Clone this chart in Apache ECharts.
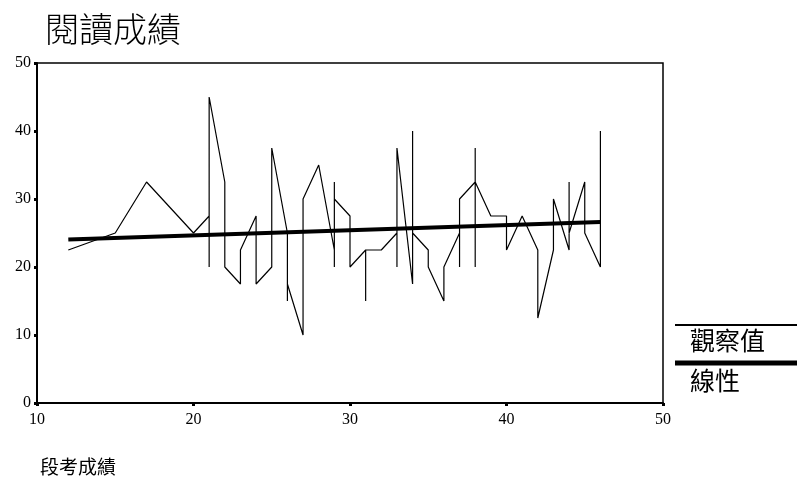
<!DOCTYPE html>
<html><head><meta charset="utf-8">
<script src="https://cdn.jsdelivr.net/npm/echarts@6/dist/echarts.min.js"></script>
<style>html,body{margin:0;padding:0;background:#fff}#c{width:797px;height:481px}</style>
</head><body><div id="c"></div>
<script>
const chartTitle = '閱讀成績';
const xAxisName = '段考成績';
const legendNames = ['觀察值', '線性'];
const xRange = [10, 50];
const yRange = [0, 50];
const tickStep = 10;
// observed values, in drawing order (sorted by x, ties kept in path order)
const obsX = [12,15,17,20,21,21,21,21,22,22,22,23,23,24,24,25,25,26,26,26,27,27,27,28,29,29,29,29,30,30,31,31,31,32,33,33,33,34,34,34,35,35,36,36,37,37,37,38,38,38,38,39,40,40,41,42,42,43,43,44,44,44,45,45,46,46];
const obsY = [22.5,25,32.5,25,27.5,32.5,20,45,32.5,27.5,20,17.5,22.5,27.5,17.5,20,37.5,25,15,17.5,10,15,30,35,22.5,20,32.5,30,27.5,20,22.5,15,22.5,22.5,25,20,37.5,17.5,40,25,22.5,20,15,20,25,20,30,32.5,20,37.5,32.5,27.5,27.5,22.5,27.5,22.5,12.5,22.5,30,22.5,32.5,25,32.5,25,20,40];
// linear fit end points
const fitX = [12, 46];
const fitY = [24.05, 26.6];

const CJK = '"Noto Sans CJK TC", "Noto Sans CJK SC", sans-serif';
const SERIF = '"Liberation Serif", "DejaVu Serif", serif';

const chart = echarts.init(document.getElementById('c'), null, {renderer: 'canvas'});
const axisCommon = {
  axisLine: {show: true, onZero: false, lineStyle: {color: '#000', width: 2}},
  axisTick: {show: true, length: 3, lineStyle: {color: '#000', width: 3}},
  splitLine: {show: false},
  axisLabel: {color: '#000', fontFamily: SERIF, fontSize: 16}
};
chart.setOption({
  animation: false,
  backgroundColor: '#fff',
  title: {text: chartTitle, left: 40, top: 7,
    textStyle: {fontFamily: CJK, fontSize: 34, fontWeight: 300, color: '#000'}},
  grid: {left: 37, right: 134, top: 63, bottom: 78, show: true, borderColor: '#000', borderWidth: 1.5, backgroundColor: 'transparent'},
  xAxis: Object.assign({type: 'value', min: xRange[0], max: xRange[1], interval: tickStep}, axisCommon,
    {axisLabel: Object.assign({}, axisCommon.axisLabel, {margin: 9})}),
  yAxis: Object.assign({type: 'value', min: yRange[0], max: yRange[1], interval: tickStep}, axisCommon,
    {axisLabel: Object.assign({}, axisCommon.axisLabel, {margin: 6, padding: [0, 0, 3, 0]})}),
  series: [
    {name: legendNames[0], type: 'line', data: obsX.map((x, i) => [x, obsY[i]]),
      showSymbol: false, symbol: 'none', lineStyle: {color: '#000', width: 1.2}, z: 3},
    {name: legendNames[1], type: 'line', data: fitX.map((x, i) => [x, fitY[i]]),
      showSymbol: false, symbol: 'none', lineStyle: {color: '#000', width: 4}, z: 2}
  ],
  graphic: [
    {type: 'text', left: 40, top: 457, style: {text: xAxisName, font: '19px ' + CJK, fill: '#000'}},
    {type: 'line', shape: {x1: 675, y1: 325, x2: 797, y2: 325}, style: {stroke: '#000', lineWidth: 2}},
    {type: 'text', left: 690, top: 328, style: {text: legendNames[0], font: '25px ' + CJK, fill: '#000'}},
    {type: 'line', shape: {x1: 675, y1: 363, x2: 797, y2: 363}, style: {stroke: '#000', lineWidth: 5}},
    {type: 'text', left: 690, top: 368, style: {text: legendNames[1], font: '25px ' + CJK, fill: '#000'}}
  ]
});
</script></body></html>
